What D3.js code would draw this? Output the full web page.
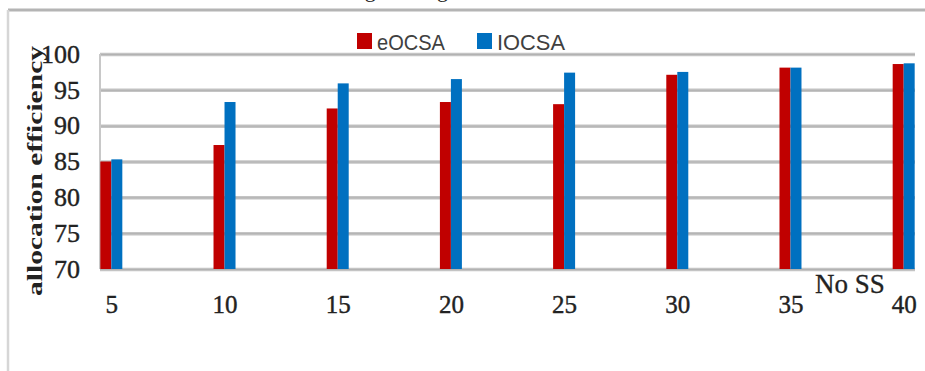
<!DOCTYPE html>
<html>
<head>
<meta charset="utf-8">
<script src="https://cdn.jsdelivr.net/npm/d3@7/dist/d3.min.js"></script>
<style>
  html, body { margin: 0; padding: 0; background: #fff; }
  svg { display: block; }
</style>
</head>
<body>
<svg id="chart" width="925" height="371"></svg>
<script>
// Number of SS on the x axis
const categories = ["5", "10", "15", "20", "25", "30", "35", "40"];
const seriesNames = ["eOCSA", "IOCSA"];
// Allocation efficiency per algorithm
const eOCSA = [85.0, 87.3, 92.4, 93.3, 93.0, 97.1, 98.1, 98.6];
const IOCSA = [85.3, 93.3, 95.9, 96.5, 97.4, 97.5, 98.1, 98.7];
const yTicks = [70, 75, 80, 85, 90, 95, 100];

const colors = { eOCSA: "#C00000", IOCSA: "#0070C0" };
const values = { eOCSA, IOCSA };

const svg = d3.select("#chart");
const W = 925, H = 371;
const plot = { left: 100, right: 915, top: 54, bottom: 269 };

// frame of the figure (caption above the top rule, left rule)
svg.append("text")
  .attr("x", 283).attr("y", -3)
  .attr("font-family", "Liberation Serif").attr("font-size", 22)
  .attr("fill", "#222")
  .text("Allocating ratio against No SS");
svg.append("line").attr("x1", 8).attr("x2", W).attr("y1", 10).attr("y2", 10)
  .attr("stroke", "#b4b4b4").attr("stroke-width", 3);
svg.append("line").attr("x1", 8).attr("x2", 8).attr("y1", 10).attr("y2", H)
  .attr("stroke", "#d6d6d6").attr("stroke-width", 2.5);

const x0 = d3.scalePoint().domain(categories).range([plot.left, plot.right]).padding(0.1);
const barW = 11;
const x1 = d3.scaleBand().domain(seriesNames).range([-barW, barW]);
const y = d3.scaleLinear().domain([70, 100]).range([plot.bottom, plot.top]);

// horizontal gridlines
const grid = svg.append("g").attr("class", "grid")
  .attr("transform", `translate(${plot.left},0)`)
  .call(d3.axisLeft(y).tickValues(yTicks).tickSize(-(plot.right - plot.left)).tickFormat(""));
grid.select(".domain").remove();
grid.selectAll(".tick line").attr("stroke", "#c4c4c4").attr("stroke-width", 3.5);
grid.selectAll(".tick").append("line")
  .attr("x2", plot.right - plot.left).attr("stroke", "#b2b2b2").attr("stroke-width", 1);

// left edge of plot area
svg.append("line").attr("x1", plot.left).attr("x2", plot.left)
  .attr("y1", plot.top).attr("y2", plot.bottom)
  .attr("stroke", "#c8c8c8").attr("stroke-width", 2);

// bars
const groups = svg.append("g").selectAll("g")
  .data(categories)
  .join("g")
  .attr("transform", d => `translate(${x0(d)},0)`);
groups.selectAll("rect")
  .data((d, i) => seriesNames.map(s => ({ s, v: values[s][i] })))
  .join("rect")
  .attr("x", d => x1(d.s))
  .attr("width", x1.bandwidth())
  .attr("y", d => y(d.v))
  .attr("height", d => y(70) - y(d.v))
  .attr("fill", d => colors[d.s]);

// y axis labels
const yAxis = svg.append("g")
  .attr("transform", `translate(80,0)`)
  .call(d3.axisLeft(y).tickValues(yTicks).tickSize(0).tickPadding(0));
yAxis.select(".domain").remove();
yAxis.selectAll("text")
  .attr("font-family", "Liberation Serif").attr("font-size", 26)
  .attr("fill", "#222").attr("stroke", "#222").attr("stroke-width", 0.4)
  .attr("dy", "0.32em").attr("text-anchor", "end");

// x axis labels
const xAxis = svg.append("g")
  .attr("transform", `translate(0,295)`)
  .call(d3.axisBottom(x0).tickSize(0).tickPadding(0));
xAxis.select(".domain").remove();
xAxis.selectAll("text")
  .attr("font-family", "Liberation Serif").attr("font-size", 25)
  .attr("fill", "#222").attr("stroke", "#222").attr("stroke-width", 0.4)
  .attr("dy", "0.71em");

// axis titles
svg.append("text")
  .attr("transform", "translate(42,171) rotate(-90)")
  .attr("text-anchor", "middle")
  .attr("font-family", "Liberation Serif").attr("font-weight", "bold")
  .attr("font-size", 21).attr("fill", "#222")
  .attr("textLength", 250).attr("lengthAdjust", "spacingAndGlyphs")
  .text("allocation efficiency");
svg.append("text")
  .attr("x", 850).attr("y", 293)
  .attr("text-anchor", "middle")
  .attr("font-family", "Liberation Serif").attr("font-size", 27)
  .attr("fill", "#222").attr("stroke", "#222").attr("stroke-width", 0.3)
  .text("No SS");

// legend
const legendX = { eOCSA: 357, IOCSA: 477 };
const legend = svg.append("g").selectAll("g")
  .data(seriesNames)
  .join("g")
  .attr("transform", d => `translate(${legendX[d]},33)`);
legend.append("rect")
  .attr("width", 15).attr("height", 16)
  .attr("fill", d => colors[d]);
legend.append("text")
  .attr("x", 20).attr("y", 16.5)
  .attr("font-family", "Liberation Sans").attr("font-size", 22)
  .attr("fill", "#404040")
  .attr("textLength", 68).attr("lengthAdjust", "spacingAndGlyphs")
  .text(d => d);
</script>
</body>
</html>
